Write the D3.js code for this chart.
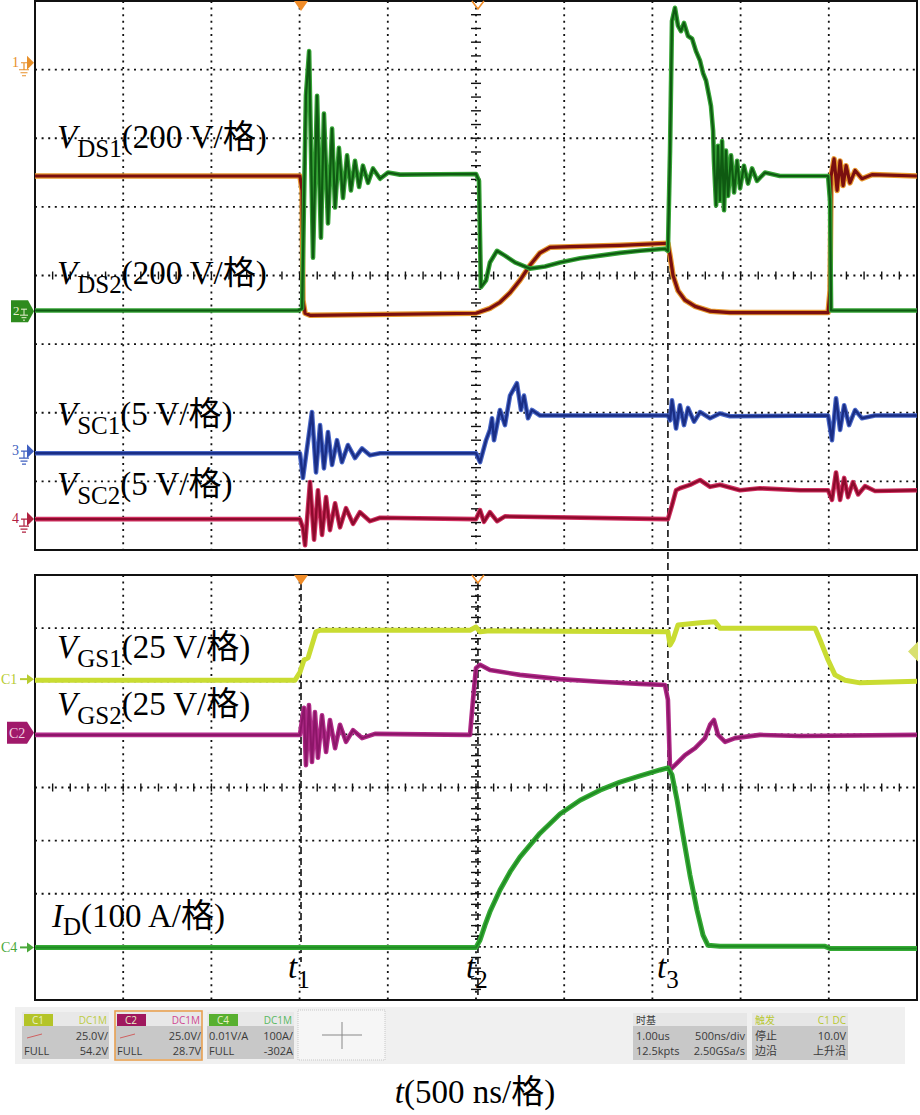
<!DOCTYPE html>
<html><head><meta charset="utf-8">
<script src="https://cdn.jsdelivr.net/npm/d3@7"></script>
<style>body{margin:0;background:#fff} svg{display:block}</style>
</head><body>
<script>
// time in ns from left edge of screen (500 ns/div), amplitude in screen divisions from panel centre
const vds1 = [[0,1.45],[1502,1.45],[1514,1.24],[1519,-0.36],[1531,-0.55],[1559,-0.58],[2500,-0.55],[2579,-0.48],[2636,-0.39],[2693,-0.25],[2749,-0.07],[2806,0.15],[2863,0.33],[2919,0.41],[3033,0.42],[3316,0.44],[3588,0.47],[3600,0.29],[3617,0.0],[3645,-0.22],[3685,-0.36],[3742,-0.45],[3827,-0.52],[3940,-0.54],[4496,-0.54],[4507,-0.22],[4513,1.45],[4530,1.70],[4547,1.24],[4564,1.67],[4581,1.31],[4598,1.60],[4620,1.35],[4649,1.53],[4688,1.41],[4745,1.47],[5000,1.45]];
const vds2 = [[0,-0.51],[1491,-0.51],[1514,-0.48],[1525,1.09],[1536,2.62],[1554,3.27],[1576,0.26],[1599,2.62],[1621,0.55],[1638,2.36],[1661,0.76],[1684,2.14],[1701,0.99],[1723,1.86],[1746,1.13],[1769,1.75],[1791,1.24],[1814,1.67],[1837,1.29],[1859,1.60],[1888,1.35],[1916,1.56],[1956,1.41],[2001,1.50],[2069,1.47],[2500,1.48],[2517,1.38],[2528,-0.17],[2557,-0.07],[2579,0.19],[2619,0.36],[2664,0.29],[2721,0.19],[2806,0.10],[2891,0.13],[2976,0.19],[3090,0.25],[3203,0.29],[3316,0.33],[3430,0.36],[3571,0.39],[3588,0.36],[3600,1.82],[3611,3.71],[3628,3.90],[3645,3.64],[3662,3.56],[3679,3.68],[3702,3.49],[3725,3.45],[3747,3.27],[3770,3.13],[3787,2.95],[3804,2.84],[3821,2.62],[3832,2.47],[3844,2.11],[3849,1.67],[3861,1.02],[3872,1.89],[3883,1.09],[3895,1.96],[3906,0.95],[3917,1.82],[3929,1.16],[3946,1.75],[3963,1.21],[3980,1.67],[3997,1.27],[4019,1.60],[4042,1.34],[4065,1.56],[4093,1.38],[4138,1.50],[4223,1.45],[4496,1.45],[4507,1.09],[4513,-0.51],[5000,-0.51]];
const vsc1 = [[0,-2.59],[1502,-2.59],[1519,-2.95],[1570,-1.99],[1593,-2.87],[1616,-2.18],[1638,-2.81],[1661,-2.28],[1684,-2.76],[1712,-2.40],[1740,-2.72],[1774,-2.47],[1814,-2.66],[1854,-2.52],[1899,-2.62],[1956,-2.59],[2500,-2.59],[2523,-2.72],[2557,-2.40],[2579,-2.25],[2591,-2.08],[2602,-2.40],[2636,-1.96],[2664,-2.18],[2693,-1.75],[2732,-1.57],[2755,-1.96],[2772,-1.75],[2795,-2.08],[2817,-1.96],[2863,-2.04],[3588,-2.04],[3600,-2.11],[3611,-1.82],[3634,-2.23],[3656,-1.89],[3679,-2.18],[3702,-1.93],[3736,-2.13],[3770,-1.99],[3827,-2.08],[3883,-2.01],[3940,-2.05],[4496,-2.04],[4518,-2.40],[4541,-1.79],[4564,-2.25],[4587,-1.89],[4615,-2.18],[4649,-1.96],[4688,-2.08],[4762,-2.04],[5000,-2.04]];
const vsc2 = [[0,-3.55],[1502,-3.55],[1519,-3.68],[1531,-3.93],[1559,-3.01],[1582,-3.85],[1604,-3.13],[1627,-3.78],[1650,-3.23],[1672,-3.71],[1701,-3.32],[1729,-3.67],[1763,-3.39],[1803,-3.62],[1842,-3.45],[1899,-3.58],[1956,-3.53],[2500,-3.55],[2523,-3.42],[2545,-3.59],[2579,-3.45],[2619,-3.58],[2664,-3.51],[3588,-3.55],[3611,-3.35],[3634,-3.13],[3656,-3.10],[3713,-3.05],[3770,-2.98],[3827,-3.08],[3883,-3.05],[3997,-3.13],[4110,-3.10],[4337,-3.13],[4496,-3.13],[4518,-3.27],[4541,-2.87],[4564,-3.27],[4587,-2.95],[4609,-3.23],[4637,-3.01],[4666,-3.19],[4705,-3.07],[4762,-3.14],[5000,-3.13]];
const vgs1 = [[0,2.02],[1474,2.02],[1502,2.17],[1525,2.40],[1548,2.44],[1570,2.68],[1593,2.93],[1616,2.96],[2466,2.96],[2500,3.02],[2523,2.93],[2579,2.95],[3588,2.93],[3600,2.68],[3617,2.78],[3645,3.06],[3770,3.10],[3855,3.12],[3883,3.00],[4422,3.00],[4450,2.78],[4496,2.40],[4535,2.12],[4592,2.02],[4677,1.97],[5000,2.00]];
const vgs2 = [[0,0.99],[1502,0.99],[1514,1.27],[1525,1.50],[1536,0.42],[1553,1.55],[1570,0.48],[1587,1.42],[1604,0.56],[1627,1.36],[1650,0.67],[1672,1.27],[1701,0.74],[1729,1.18],[1763,0.86],[1803,1.08],[1854,0.93],[1927,1.01],[2466,0.99],[2483,1.65],[2500,2.25],[2523,2.31],[2579,2.21],[2749,2.12],[2976,2.04],[3203,1.99],[3430,1.95],[3571,1.93],[3588,1.65],[3600,0.33],[3628,0.42],[3685,0.61],[3742,0.74],[3798,0.93],[3827,1.18],[3849,1.27],[3872,0.99],[3912,0.86],[3968,0.93],[4110,0.99],[4337,0.97],[5000,0.99]];
const idA = [[0,-3.01],[2500,-3.01],[2523,-2.87],[2551,-2.59],[2579,-2.34],[2636,-1.93],[2693,-1.59],[2749,-1.31],[2863,-0.86],[2976,-0.50],[3090,-0.24],[3203,-0.05],[3316,0.10],[3430,0.22],[3543,0.33],[3588,0.37],[3611,0.24],[3640,-0.24],[3673,-0.89],[3713,-1.65],[3753,-2.31],[3787,-2.78],[3815,-2.97],[3883,-2.99],[4479,-2.99],[4507,-3.03],[5000,-3.03]];

const timeMarks = [{name:"1", t:1508}, {name:"2", t:2511}, {name:"3", t:3588}];
const topMarkers = [{label:"1", v:3.10, color:"#e8902a"}, {label:"2", v:-0.52, color:"#2e8b1e", boxed:true}, {label:"3", v:-2.56, color:"#3f5fc0"}, {label:"4", v:-3.55, color:"#b0203f"}];
const botMarkers = [{label:"C1", v:2.04, color:"#b8cc30"}, {label:"C2", v:1.03, color:"#a0196a", boxed:true}, {label:"C4", v:-3.01, color:"#4aa83a"}];

const W=920,H=1115;
const svg=d3.select("body").append("svg").attr("width",W).attr("height",H);
const x=d3.scaleLinear().domain([0,5000]).range([35,917]);
const yT=d3.scaleLinear().domain([-4,4]).range([550,1]);
const yB=d3.scaleLinear().domain([-4,4]).range([1000,575]);

function grid(y){
  const g=svg.append("g");
  d3.range(500,5000,500).forEach(t=>{
    g.append("line").attr("x1",x(t)).attr("x2",x(t)).attr("y1",y(4)).attr("y2",y(-4))
     .attr("stroke","#111").attr("stroke-width",1.8).attr("stroke-dasharray","2,4.6");
  });
  d3.range(-3,4,1).forEach(v=>{
    g.append("line").attr("x1",x(0)).attr("x2",x(5000)).attr("y1",y(v)).attr("y2",y(v))
     .attr("stroke","#111").attr("stroke-width",1.8).attr("stroke-dasharray","2,4.6");
  });
  d3.range(100,5000,100).forEach(t=>{
    g.append("line").attr("x1",x(t)).attr("x2",x(t)).attr("y1",y(0)-4).attr("y2",y(0)+4)
     .attr("stroke","#111").attr("stroke-width",1.4);
  });
  d3.range(-3.8,4,0.2).forEach(v=>{
    g.append("line").attr("x1",x(2500)-5).attr("x2",x(2500)+5).attr("y1",y(v)).attr("y2",y(v))
     .attr("stroke","#111").attr("stroke-width",1.4);
  });
  g.append("rect").attr("x",x(0)).attr("y",y(4)).attr("width",x(5000)-x(0)).attr("height",y(-4)-y(4))
   .attr("fill","none").attr("stroke","#111").attr("stroke-width",2);
}
grid(yT); grid(yB);

// dashed time markers
const dash = svg.append("g").attr("stroke","#111").attr("stroke-width",1.6).attr("stroke-dasharray","7,4");
dash.append("line").attr("x1",x(timeMarks[0].t)).attr("x2",x(timeMarks[0].t)).attr("y1",583).attr("y2",962);
dash.append("line").attr("x1",x(timeMarks[1].t)).attr("x2",x(timeMarks[1].t)).attr("y1",583).attr("y2",995);
dash.append("line").attr("x1",x(timeMarks[2].t)).attr("x2",x(timeMarks[2].t)).attr("y1",255).attr("y2",962);

function trace(data,y,halo,hw,core,cw){
  const line=d3.line().x(d=>x(d[0])).y(d=>y(d[1]));
  svg.append("path").datum(data).attr("d",line).attr("fill","none").attr("stroke",halo).attr("stroke-width",hw).attr("stroke-linejoin","round");
  if(core) svg.append("path").datum(data).attr("d",line).attr("fill","none").attr("stroke",core).attr("stroke-width",cw).attr("stroke-linejoin","round");
}
trace(vds1,yT,"#e89a30",5.5,"#7a0f0f",3.2);
trace(vds2,yT,"#36a436",4.6,"#0f5a12",2.2);
trace(vsc1,yT,"#4a68c8",4.6,"#1a2e85",2.4);
trace(vsc2,yT,"#d03060",4.6,"#8c0a2c",2.4);
trace(vgs1,yB,"#c9dc32",5,null,0);
trace(vgs2,yB,"#b02a88",4.6,"#8c1668",2);
trace(idA,yB,"#35aa35",5,"#1f8a22",2);

// trigger markers
[yT,yB].forEach(y=>{
  const y0=y(4);
  const a=x(timeMarks[0].t), b=x(timeMarks[1].t);
  svg.append("path").attr("d",`M${a-7},${y0} L${a+7},${y0} L${a},${y0+10} Z`).attr("fill","#f08c28");
  svg.append("path").attr("d",`M${b-6},${y0} L${b},${y0+8} L${b+6},${y0}`).attr("fill","none").attr("stroke","#f08c28").attr("stroke-width",1.6);
});

// channel markers (left)
topMarkers.forEach(m=>{
  const yy=yT(m.v);
  const g=svg.append("g");
  if(m.boxed){
    g.append("path").attr("d",`M11,${yy-11} L28,${yy-11} L34,${yy} L28,${yy+11} L11,${yy+11} Z`).attr("fill",m.color);
    g.append("text").attr("x",13).attr("y",yy+4).attr("font-family","Liberation Serif").attr("font-size",13).attr("fill","#e8f0d0").text(m.label);
    g.append("path").attr("d",`M21,${yy-2} L27,${yy-2} M24,${yy-2} L24,${yy+4} M20,${yy+4} L28,${yy+4} M21.5,${yy+6.5} L26.5,${yy+6.5} M23,${yy+9} L25,${yy+9}`).attr("stroke","#e8f0d0").attr("stroke-width",1);
  } else {
    g.append("text").attr("x",12).attr("y",yy+4).attr("font-family","Liberation Serif").attr("font-size",14).attr("fill",m.color).text(m.label);
    g.append("path").attr("d",`M27,${yy-7} L34,${yy} L27,${yy+7} Z`).attr("fill",m.color);
    g.append("path").attr("d",`M21,${yy} L27,${yy} M24,${yy} L24,${yy+7} M19,${yy+7} L29,${yy+7} M20.5,${yy+10} L27.5,${yy+10} M22,${yy+13} L26,${yy+13}`).attr("stroke",m.color).attr("stroke-width",1.2).attr("fill","none");
  }
});
botMarkers.forEach(m=>{
  const yy=yB(m.v);
  const g=svg.append("g");
  if(m.boxed){
    g.append("path").attr("d",`M7,${yy-11} L27,${yy-11} L34,${yy} L27,${yy+11} L7,${yy+11} Z`).attr("fill",m.color);
    g.append("text").attr("x",9).attr("y",yy+5).attr("font-family","Liberation Serif").attr("font-size",14).attr("fill","#f0d0e0").text(m.label);
  } else {
    g.append("text").attr("x",1).attr("y",yy+5).attr("font-family","Liberation Serif").attr("font-size",14).attr("fill",m.color).text(m.label);
    g.append("path").attr("d",`M20,${yy} L31,${yy}`).attr("stroke",m.color).attr("stroke-width",2);
    g.append("path").attr("d",`M27,${yy-5} L34,${yy} L27,${yy+5} Z`).attr("fill",m.color);
  }
});
// right-side trigger level marker
{
  const yy=yB(2.56);
  svg.append("path").attr("d",`M908,${yy} L918,${yy-10} L918,${yy+10} Z`).attr("fill","#d8e070");
}

// labels
const SERIF="'Liberation Serif','Times New Roman','Noto Sans CJK SC',serif";
function label(px,py,main,sub,rest,subDy){
  const t=svg.append("text").attr("x",px).attr("y",py).attr("font-family",SERIF).attr("fill","#000");
  t.append("tspan").attr("font-style","italic").attr("font-size",33).text(main);
  t.append("tspan").attr("font-size",25).attr("dy",subDy).text(sub);
  if(rest) t.append("tspan").attr("font-size",33).attr("dy",-subDy).text(rest);
}
label(57,148,"V","DS1","(200 V/格)",9);
label(57,284,"V","DS2","(200 V/格)",9);
label(57,425,"V","SC1","(5 V/格)",9);
label(57,495,"V","SC2","(5 V/格)",9);
label(57,658,"V","GS1","(25 V/格)",9);
label(57,715,"V","GS2","(25 V/格)",9);
label(52,927,"I","D","(100 A/格)",8);
label(288,978,"t","1","",10);
label(466,978,"t","2","",10);
label(657,978,"t","3","",10);
{
  const t=svg.append("text").attr("x",475).attr("y",1103).attr("text-anchor","middle").attr("font-family",SERIF).attr("font-size",33);
  t.append("tspan").attr("font-style","italic").text("t");
  t.append("tspan").text("(500 ns/格)");
}

// status bar
const SANS="'Open Sans','Noto Sans CJK SC',sans-serif";
svg.append("rect").attr("x",15).attr("y",1007).attr("width",890).attr("height",57).attr("fill","#f0f0f0");
const chBoxes=[
  {x:22,label:"C1",lc:"#b4c428",dc:"#bccc40",r2l:"",r2r:"25.0V/",r3l:"FULL",r3r:"54.2V",sel:false},
  {x:115,label:"C2",lc:"#a0185e",dc:"#d04890",r2l:"",r2r:"25.0V/",r3l:"FULL",r3r:"28.7V",sel:true},
  {x:207,label:"C4",lc:"#58b030",dc:"#58b860",r2l:"0.01V/A",r2r:"100A/",r3l:"FULL",r3r:"-302A",sel:false}
];
chBoxes.forEach(b=>{
  const g=svg.append("g").attr("font-family",SANS).attr("font-size",11).attr("fill","#3a3a3a");
  g.append("rect").attr("x",b.x).attr("y",1012).attr("width",87).attr("height",14).attr("fill","#e8e8e8");
  g.append("rect").attr("x",b.x).attr("y",1026).attr("width",87).attr("height",33).attr("fill","#c8c8c8");
  g.append("rect").attr("x",b.x+2).attr("y",1014).attr("width",29).attr("height",12).attr("fill",b.lc);
  g.append("text").attr("x",b.x+16).attr("y",1024).attr("text-anchor","middle").attr("fill","#e8f0c8").attr("font-size",10).text(b.label);
  g.append("text").attr("x",b.x+85).attr("y",1024).attr("text-anchor","end").attr("fill",b.dc).attr("font-size",10).text("DC1M");
  if(b.r2l) g.append("text").attr("x",b.x+2).attr("y",1040).text(b.r2l);
  else g.append("line").attr("x1",b.x+5).attr("x2",b.x+20).attr("y1",1038).attr("y2",1034).attr("stroke","#d06060").attr("stroke-width",1);
  g.append("text").attr("x",b.x+86).attr("y",1040).attr("text-anchor","end").text(b.r2r);
  g.append("text").attr("x",b.x+2).attr("y",1055).text(b.r3l);
  g.append("text").attr("x",b.x+86).attr("y",1055).attr("text-anchor","end").text(b.r3r);
  if(b.sel) g.append("rect").attr("x",b.x).attr("y",1011).attr("width",87).attr("height",49).attr("fill","none").attr("stroke","#e8a050").attr("stroke-width",1.6);
});
svg.append("rect").attr("x",298).attr("y",1010).attr("width",87).attr("height",50).attr("fill","#f6f6f6").attr("stroke","#c8c8c8").attr("stroke-dasharray","1,1");
svg.append("path").attr("d","M322,1035 L362,1035 M342,1022 L342,1049").attr("stroke","#888").attr("stroke-width",1);
const infoBoxes=[
  {x:633,w:114,h1:"时基",h1c:"#3a3a3a",h2:"",rows:[["1.00us","500ns/div"],["12.5kpts","2.50GSa/s"]]},
  {x:752,w:96,h1:"触发",h1c:"#b8c830",h2:"C1 DC",rows:[["停止","10.0V"],["边沿","上升沿"]]}
];
infoBoxes.forEach(b=>{
  const g=svg.append("g").attr("font-family",SANS).attr("font-size",11).attr("fill","#3a3a3a");
  g.append("rect").attr("x",b.x).attr("y",1013).attr("width",b.w).attr("height",13).attr("fill","#e6e6e6");
  g.append("rect").attr("x",b.x).attr("y",1026).attr("width",b.w).attr("height",34).attr("fill","#c8c8c8");
  g.append("text").attr("x",b.x+3).attr("y",1024).attr("fill",b.h1c).attr("font-size",10).text(b.h1);
  if(b.h2) g.append("text").attr("x",b.x+b.w-2).attr("y",1024).attr("text-anchor","end").attr("fill",b.h1c).attr("font-size",10).text(b.h2);
  b.rows.forEach((r,i)=>{
    g.append("text").attr("x",b.x+3).attr("y",1040+i*15).text(r[0]);
    g.append("text").attr("x",b.x+b.w-2).attr("y",1040+i*15).attr("text-anchor","end").text(r[1]);
  });
});
</script>
</body></html>
